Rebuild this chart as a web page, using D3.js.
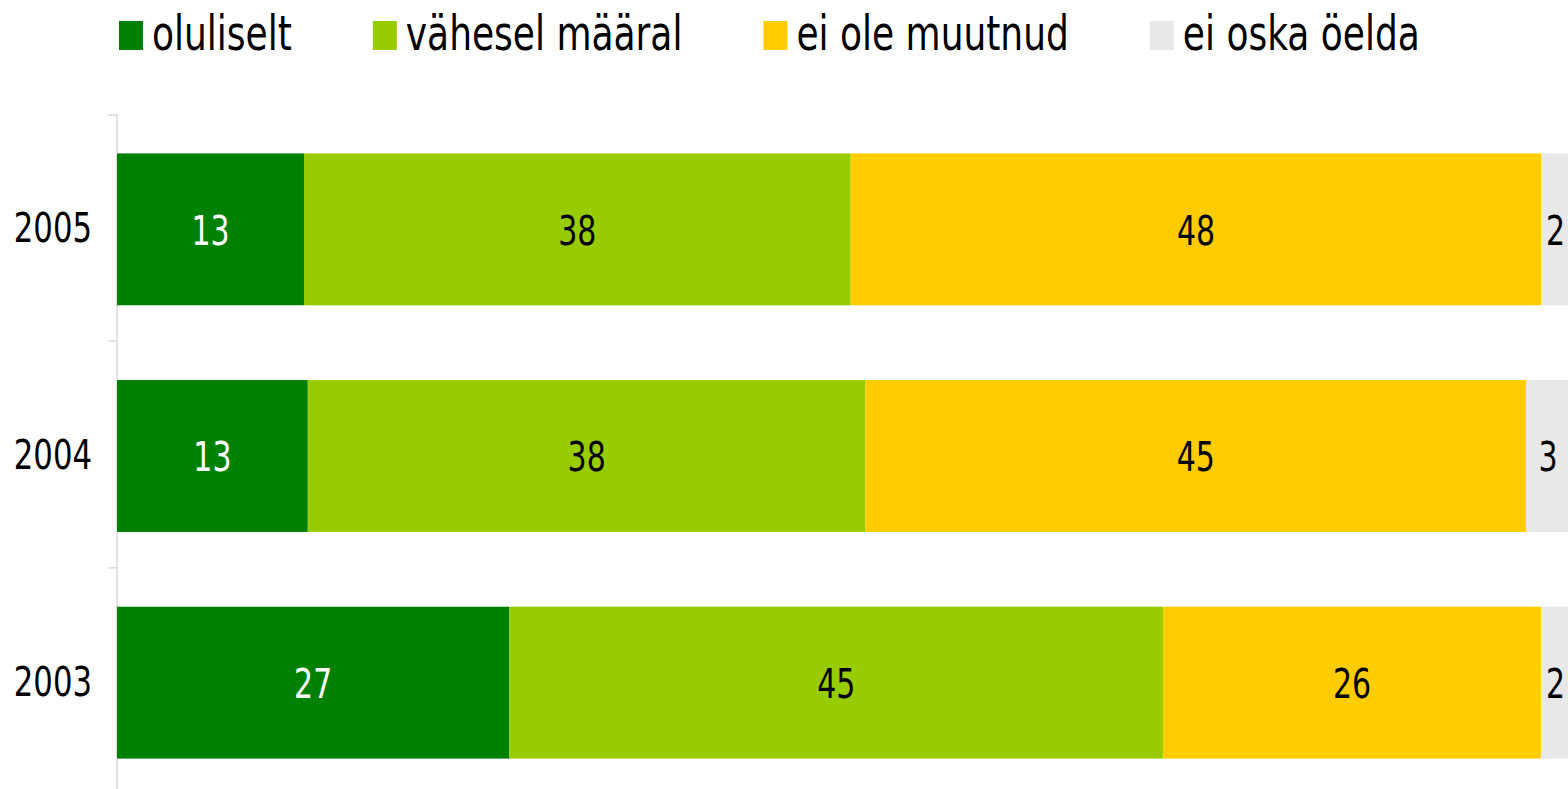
<!DOCTYPE html>
<html>
<head>
<meta charset="utf-8">
<script src="https://cdn.jsdelivr.net/npm/d3@7"></script>
<style>
  body { margin: 0; background: #fff; }
  svg { display: block; font-family: "DejaVu Sans", Verdana, sans-serif; }
</style>
</head>
<body>
<div id="chart"></div>
<script>
// data (top bar first)
const years = ["2005", "2004", "2003"];
const categories = ["oluliselt", "vähesel määral", "ei ole muutnud", "ei oska öelda"];
const oluliselt = [13, 13, 27];
const vaheselMaaral = [38, 38, 45];
const eiOleMuutnud = [48, 45, 26];
const eiOskaOelda = [2, 3, 2];
const colors = ["#008000", "#99cc00", "#ffcc00", "#e8e8e8"];
const labelColors = ["#ffffff", "#000000", "#000000", "#000000"];

const rows = years.map((y, i) => ({
    year: y,
    "oluliselt": oluliselt[i],
    "vähesel määral": vaheselMaaral[i],
    "ei ole muutnud": eiOleMuutnud[i],
    "ei oska öelda": eiOskaOelda[i]
}));

const width = 1568, height = 789;
const squeeze = 0.75; // the text in the original is horizontally compressed

const svg = d3.select("#chart").append("svg")
    .attr("width", width)
    .attr("height", height);

// 100% stacked bars
const stack = d3.stack().keys(categories).offset(d3.stackOffsetExpand);
const layers = stack(rows);

const x = d3.scaleLinear().domain([0, 1]).range([117, 1570]);
const y = d3.scaleBand().domain(years).range([114.5, 794.5]).padding(0);
const barH = y.bandwidth() * 0.67;

// y axis
const yAxis = d3.axisLeft(y).tickSize(0).tickSizeOuter(8).tickPadding(0);
const axisG = svg.append("g")
    .attr("transform", "translate(116.5,0)")
    .call(yAxis);
axisG.select(".domain").attr("stroke", "#d9d9d9").attr("stroke-width", 1.5);
axisG.selectAll(".tick text")
    .attr("x", -24.5 / squeeze)
    .attr("dy", "0.35em")
    .attr("transform", "scale(" + squeeze + ",1)")
    .attr("fill", "#000")
    .style("font-size", "41px")
    .style("font-family", "'DejaVu Sans', Verdana, sans-serif");

// separator ticks between categories
axisG.selectAll(".sep")
    .data(years.slice(1))
    .enter().append("line")
    .attr("class", "sep")
    .attr("x1", -8).attr("x2", 0)
    .attr("y1", d => y(d)).attr("y2", d => y(d))
    .attr("stroke", "#d9d9d9")
    .attr("stroke-width", 1.5);

const layerG = svg.selectAll(".layer")
    .data(layers)
    .enter().append("g")
    .attr("class", "layer")
    .attr("fill", (d, i) => colors[i]);

layerG.selectAll("rect")
    .data(d => d)
    .enter().append("rect")
    .attr("x", d => x(d[0]))
    .attr("y", d => y(d.data.year) + (y.bandwidth() - barH) / 2 + 1.5)
    .attr("width", d => x(d[1]) - x(d[0]))
    .attr("height", barH);

// value labels
layerG.each(function(layer, li) {
    d3.select(this).selectAll("text")
        .data(layer)
        .enter().append("text")
        .attr("transform", d => "translate(" + (x(d[0]) + x(d[1])) / 2 + "," +
            (y(d.data.year) + y.bandwidth() / 2 + 1.5) + ") scale(" + squeeze + ",1)")
        .attr("text-anchor", "middle")
        .attr("dy", "0.38em")
        .attr("fill", labelColors[li])
        .style("font-size", "40px")
        .text(d => d.data[layer.key]);
});

// legend
const legend = svg.append("g").attr("class", "legend");
let lx = 119;
categories.forEach((c, i) => {
    legend.append("rect")
        .attr("x", lx).attr("y", 21)
        .attr("width", 24).attr("height", 29)
        .attr("fill", colors[i]);
    const t = legend.append("text")
        .attr("transform", "translate(" + (lx + 33) + ",50) scale(" + squeeze + ",1)")
        .attr("fill", "#000")
        .style("font-size", "48px")
        .text(c);
    lx = lx + 33 + t.node().getComputedTextLength() * squeeze + 81;
});
</script>
</body>
</html>
